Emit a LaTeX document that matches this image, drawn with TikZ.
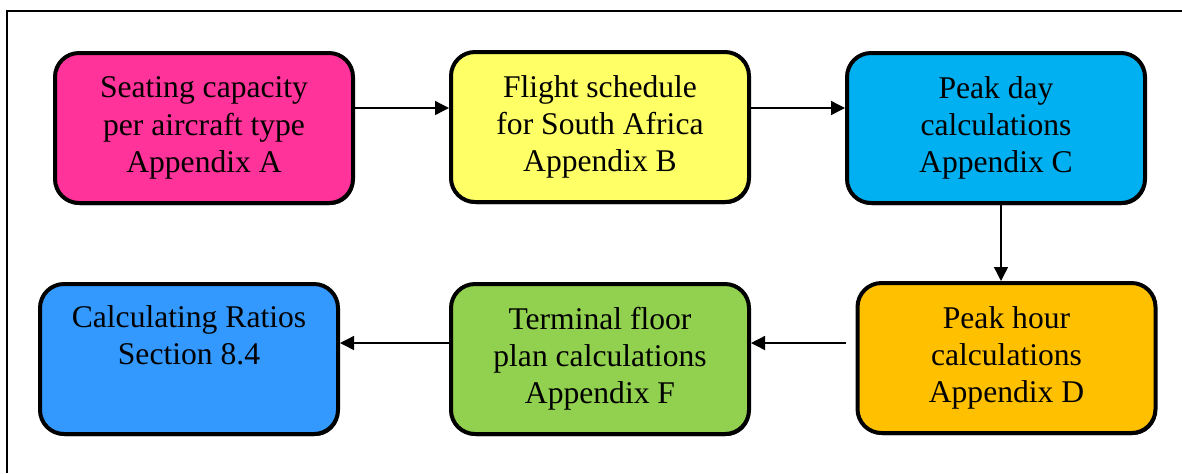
\documentclass[tikz,border=0pt]{standalone}
\usepackage{fontspec}
\setmainfont{Liberation Serif}
\usetikzlibrary{arrows.meta,shadows}
\definecolor{boxpink}{HTML}{FF3399}
\definecolor{boxyellow}{HTML}{FFFF66}
\definecolor{boxcyan}{HTML}{00B0F0}
\definecolor{boxorange}{HTML}{FFC000}
\definecolor{boxgreen}{HTML}{92D050}
\definecolor{boxblue}{HTML}{3399FF}
\tikzset{
  stagebox/.style={draw=black, line width=2pt, rounded corners=12pt,
    minimum width=149pt, minimum height=75pt, align=center, inner sep=0pt,
    font=\fontsize{15.8}{18.6}\selectfont,
    drop shadow={shadow xshift=0.6pt, shadow yshift=-1pt, fill=black, opacity=1}},
  flow/.style={line width=0.7pt, -{Triangle[length=7pt,width=7pt]}},
  frameline/.style={line width=1pt}
}
\begin{document}
\begin{tikzpicture}[x=0.5pt,y=-0.5pt]
  \useasboundingbox (0,0) rectangle (1182,473);
  % partial outer frame
  \draw[frameline] (1182,11) -- (7,11) -- (7,473);
  % process stages
  \node[stagebox, fill=boxpink]   (seat)  at (204,128)   {Seating capacity\\per aircraft type\\Appendix A};
  \node[stagebox, fill=boxyellow] (sched) at (600,127)   {Flight schedule\\for South Africa\\Appendix B};
  \node[stagebox, fill=boxcyan]   (pday)  at (996,128)   {Peak day\\calculations\\Appendix C};
  \node[stagebox, fill=boxorange] (phour) at (1006.5,358){Peak hour\\calculations\\Appendix D};
  \node[stagebox, fill=boxgreen]  (floor) at (600,359)   {Terminal floor\\plan calculations\\Appendix F};
  \node[stagebox, fill=boxblue]   (ratio) at (189,359)   {Calculating Ratios\\Section 8.4\\\strut};
  % connectors
  \draw[flow] (seat.east |- 0,108) -- (sched.west |- 0,108);
  \draw[flow] (sched.east |- 0,108) -- (pday.west |- 0,108);
  \draw[flow] (pday.south -| 1001,0) -- (phour.north -| 1001,0);
  \coordinate (dstart) at ([xshift=-5pt]phour.west);
  \draw[flow] (dstart |- 0,343) -- (floor.east |- 0,343);
  \draw[flow] (floor.west |- 0,343) -- (ratio.east |- 0,343);
\end{tikzpicture}
\end{document}
